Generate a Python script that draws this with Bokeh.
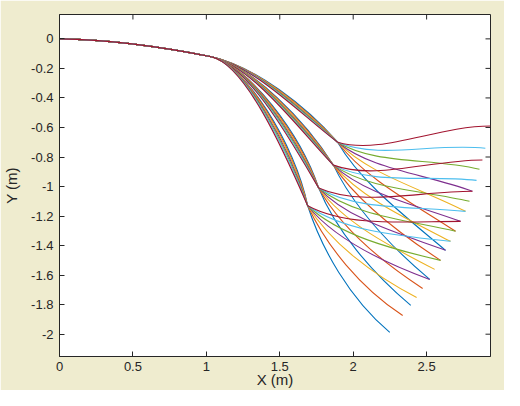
import math
from bokeh.plotting import figure
from bokeh.models import Range1d, FixedTicker, ColumnDataSource
from bokeh.embed import file_html
from bokeh.resources import INLINE

# MATLAB default colour order (one full cycle per bundle)
colors = ["#0072BD", "#D95319", "#EDB120", "#7E2F8E", "#77AC30", "#4DBEEE", "#A2142F"]

x_ticks = [0, 0.5, 1, 1.5, 2, 2.5]
x_tick_labels = ["0", "0.5", "1", "1.5", "2", "2.5"]
y_ticks = [0, -0.2, -0.4, -0.6, -0.8, -1, -1.2, -1.4, -1.6, -1.8, -2]
y_tick_labels = ["0", "-0.2", "-0.4", "-0.6", "-0.8", "-1", "-1.2", "-1.4", "-1.6", "-1.8", "-2"]

# shared start of every path (bezier: start, control, control, end)
trunk_x = [0.0, 0.344, 0.689, 1.033]
trunk_y = [0.0, -0.006, -0.052, -0.121]

# four bundles: control points and the knot where the 7 paths of a bundle meet
bundle_c0_x = [1.331, 1.310, 1.285, 1.260]
bundle_c0_y = [-0.185, -0.180, -0.175, -0.170]
bundle_c1_x = [1.656, 1.650, 1.605, 1.560]
bundle_c1_y = [-0.480, -0.580, -0.660, -0.720]
knot_x = [1.894, 1.865, 1.765, 1.690]
knot_y = [-0.700, -0.855, -1.010, -1.130]
bundle_spread_deg = [-6, -4, -2, 0, 2, 4, 6]

# direction leaving the knot and direction at the end of each path (degrees)
tail_start_deg = [-60, -53, -46, -39, -31, -23, -16]
bundle_start_shift = [0, -4, -8, -12]
end_dir_deg = [-40, -33, -27, -20, -13, -6, 0]

# end points of the 28 paths (bundle x colour)
end_x = [
    [2.629, 2.697, 2.765, 2.812, 2.860, 2.900, 2.935],
    [2.521, 2.595, 2.663, 2.731, 2.792, 2.840, 2.880],
    [2.392, 2.473, 2.555, 2.629, 2.697, 2.765, 2.812],
    [2.249, 2.337, 2.432, 2.521, 2.595, 2.663, 2.731],
]
end_y = [
    [-1.432, -1.303, -1.168, -1.032, -0.883, -0.741, -0.590],
    [-1.629, -1.500, -1.371, -1.236, -1.100, -0.958, -0.820],
    [-1.805, -1.690, -1.561, -1.432, -1.303, -1.168, -1.032],
    [-1.988, -1.873, -1.751, -1.629, -1.500, -1.371, -1.236],
]

X_MAX, Y_MIN, Y_MAX = 2.935, -2.151, 0.165

seg = {k: [] for k in ["x0", "y0", "x1", "y1", "cx0", "cy0", "cx1", "cy1", "color"]}


def add(x0, y0, cx0, cy0, cx1, cy1, x1, y1, col):
    for k, v in zip(["x0", "y0", "cx0", "cy0", "cx1", "cy1", "x1", "y1", "color"],
                    [x0, y0, cx0, cy0, cx1, cy1, x1, y1, col]):
        seg[k].append(v)


for b in range(4):
    kx, ky = knot_x[b], knot_y[b]
    dx, dy = kx - bundle_c1_x[b], ky - bundle_c1_y[b]
    for c in range(7):
        th = math.radians(bundle_spread_deg[c])
        rx = dx * math.cos(th) - dy * math.sin(th)
        ry = dx * math.sin(th) + dy * math.cos(th)
        add(trunk_x[0], trunk_y[0], trunk_x[1], trunk_y[1], trunk_x[2], trunk_y[2],
            trunk_x[3], trunk_y[3], colors[c])
        add(trunk_x[3], trunk_y[3], bundle_c0_x[b], bundle_c0_y[b],
            kx - rx, ky - ry, kx, ky, colors[c])
        ex, ey = end_x[b][c], end_y[b][c]
        chord = math.hypot(ex - kx, ey - ky)
        a0 = math.radians(tail_start_deg[c] + bundle_start_shift[b])
        a1 = math.radians(end_dir_deg[c])
        add(kx, ky, kx + 0.3 * chord * math.cos(a0), ky + 0.3 * chord * math.sin(a0),
            ex - 0.35 * chord * math.cos(a1), ey - 0.35 * chord * math.sin(a1), ex, ey, colors[c])

src = ColumnDataSource(seg)

INK = "#262626"
FONT = "Liberation Sans"

p = figure(width=504, height=390, x_range=Range1d(0, X_MAX), y_range=Range1d(Y_MIN, Y_MAX),
           output_backend="svg", toolbar_location=None,
           min_border_left=58, min_border_right=14, min_border_top=14, min_border_bottom=34)
p.background_fill_color = "white"
p.border_fill_color = "#EFECCF"
p.outline_line_color = INK
p.grid.visible = False

p.bezier(x0="x0", y0="y0", x1="x1", y1="y1", cx0="cx0", cy0="cy0", cx1="cx1", cy1="cy1",
         line_color="color", line_width=1.1, source=src)

# inward ticks on the top and right edges of the box
p.ray(x=x_ticks, y=[Y_MAX] * len(x_ticks), length=5, length_units="screen",
      angle=-math.pi / 2, line_color=INK, line_width=1)
p.ray(x=[X_MAX] * len(y_ticks), y=y_ticks, length=5, length_units="screen",
      angle=math.pi, line_color=INK, line_width=1)

for ax, ticks, labels in [(p.xaxis[0], x_ticks, x_tick_labels), (p.yaxis[0], y_ticks, y_tick_labels)]:
    ax.ticker = FixedTicker(ticks=ticks)
    ax.major_label_overrides = {t: l for t, l in zip(ticks, labels)}
    ax.major_tick_in = 5
    ax.major_tick_out = 0
    ax.minor_tick_line_color = None
    ax.axis_line_color = INK
    ax.major_tick_line_color = INK
    ax.major_label_text_color = INK
    ax.major_label_text_font = FONT
    ax.major_label_text_font_size = "13px"
    ax.axis_label_text_font = FONT
    ax.axis_label_text_font_size = "15px"
    ax.axis_label_text_font_style = "normal"
    ax.axis_label_text_color = INK

p.xaxis.axis_label = "X (m)"
p.yaxis.axis_label = "Y (m)"
p.xaxis.major_label_standoff = 5
p.xaxis.axis_label_standoff = -3
p.yaxis.major_label_standoff = 6
p.yaxis.axis_label_standoff = 8

open("out.html", "w").write(file_html(p, INLINE))
